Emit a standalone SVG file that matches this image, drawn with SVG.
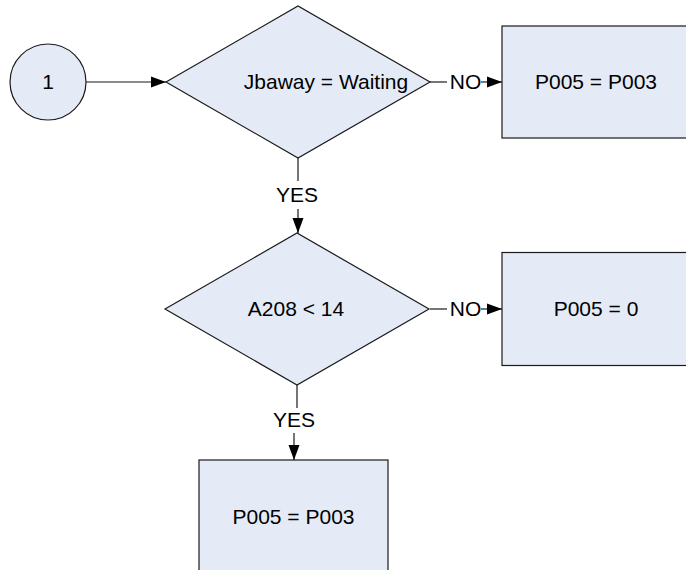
<svg xmlns="http://www.w3.org/2000/svg" width="686" height="570" viewBox="0 0 686 570">
  <defs>
    <marker id="arrow" markerUnits="userSpaceOnUse" markerWidth="16" markerHeight="12" refX="15" refY="6" orient="auto">
      <path d="M0,0.5 L15,6 L0,11.5 Z" fill="#000"/>
    </marker>
  </defs>
  <style>
    .shape { fill: #E4EBF6; stroke: #1a1a1a; stroke-width: 1.2; }
    .label { font-family: "Liberation Sans", Arial, sans-serif; font-size: 21px; fill: #000; text-anchor: middle; }
    .line { stroke: #1a1a1a; stroke-width: 1.2; fill: none; }
    .arr { stroke: #1a1a1a; stroke-width: 1.2; fill: none; marker-end: url(#arrow); }
  </style>
  <rect width="686" height="570" fill="#fff"/>

  <g id="connectors">
    <path class="arr" d="M86,82 L166,82"/>
    <path class="line" d="M430,82 L447,82"/>
    <text class="label" x="465.5" y="89">NO</text>
    <path class="arr" d="M481,82 L502,82"/>
    <path class="line" d="M298,158 L298,181"/>
    <text class="label" x="297" y="202">YES</text>
    <path class="arr" d="M298,209 L298,233"/>
    <path class="line" d="M430,309 L447,309"/>
    <text class="label" x="465.5" y="316">NO</text>
    <path class="arr" d="M481,309 L502,309"/>
    <path class="line" d="M297,385 L297,408"/>
    <text class="label" x="294" y="427">YES</text>
    <path class="arr" d="M294,433 L294,460"/>
  </g>

  <g id="start">
    <circle class="shape" cx="48" cy="82" r="38"/>
    <text class="label" x="48" y="89">1</text>
  </g>

  <g id="decision1">
    <polygon class="shape" points="166,82 298,6 430,82 298,158"/>
    <text class="label" x="326" y="89">Jbaway = Waiting</text>
  </g>

  <g id="process1">
    <rect class="shape" x="502" y="26" width="188" height="112"/>
    <text class="label" x="596" y="89">P005 = P003</text>
  </g>

  <g id="decision2">
    <polygon class="shape" points="165,309 297,233 429,309 297,385"/>
    <text class="label" x="296" y="316">A208 &lt; 14</text>
  </g>

  <g id="process2">
    <rect class="shape" x="502" y="252.5" width="188" height="113"/>
    <text class="label" x="596" y="316">P005 = 0</text>
  </g>

  <g id="process3">
    <rect class="shape" x="199" y="460" width="189" height="114"/>
    <text class="label" x="293.5" y="524">P005 = P003</text>
  </g>
</svg>
